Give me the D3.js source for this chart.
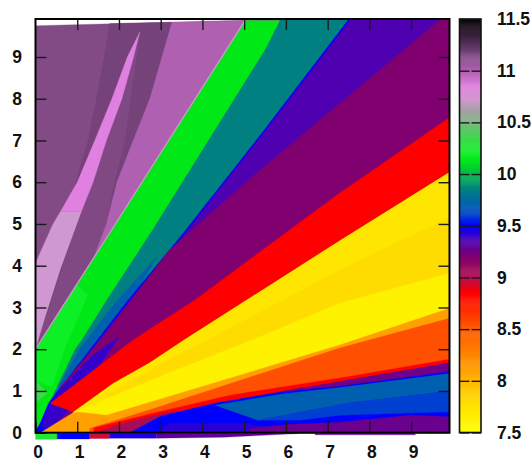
<!DOCTYPE html>
<meta charset="UTF-8">
<html>
<head>
<script src="https://d3js.org/d3.v7.min.js"></script>
<style>
  body { margin: 0; background: #fff; }
  text { font-family: "Liberation Sans", Arial, sans-serif; font-weight: bold; font-size: 17.5px; fill: #111; }
</style>
</head>
<body>
<svg id="chart" width="532" height="462"></svg>
<script>
// colour bar
var barTicks = [7.5, 8, 8.5, 9, 9.5, 10, 10.5, 11, 11.5];
var barTickLabels = ["7.5", "8", "8.5", "9", "9.5", "10", "10.5", "11", "11.5"];
var rampZ = [7.5, 7.62, 7.72, 7.8, 8.0, 8.1, 8.55, 8.85, 9.0, 9.2, 9.35, 9.5, 9.6, 9.7, 9.85, 10.13, 10.2, 10.35, 10.6, 10.72, 10.85, 11.0, 11.14, 11.17, 11.5];
var rampColors = ["#ffff00", "#fff200", "#ffe600", "#ffdc00", "#ffb800", "#ffa000", "#ff5000", "#ff0000", "#b01050", "#800070", "#5000b0", "#0000ff", "#0040d0", "#0060b0", "#008080", "#00e818", "#10f028", "#40d850", "#a0a0a0", "#d098d0", "#e080e0", "#b060b0", "#834c85", "#74427a", "#000000"];

var axisTicks = [0, 1, 2, 3, 4, 5, 6, 7, 8, 9];

// regions of the surface as [x, y] outlines, back to front
var plumBase = [[0, 9.75], [5, 9.88], [9.92, 9.9], [9.92, 0], [0, 0]];
var plumDark = [[1.78, 9.8], [3.27, 9.83], [2.74, 8], [2.34, 7], [1.95, 6], [1.7, 5], [1.42, 4.26], [0, 2], [1.02, 6.2], [1.26, 7], [1.55, 8.45]];
var plumMid = [[2.5, 9.6], [2.14, 7], [1.8, 5.6], [1.7, 5], [1.42, 4.26], [0, 2], [0.99, 5], [1.38, 6], [1.7, 7]];
var orchid = [[3.27, 9.83], [5.02, 9.87], [1.42, 4.26], [1.7, 5], [1.95, 6], [2.34, 7], [2.74, 8]];
var paleSliver = [[0, 2], [0, 4.06], [0.42, 5], [0.6, 5.3], [1.1, 5.3], [0.99, 5], [0.59, 3.9], [0.23, 2.77]];
var pinkSliver = [[0.6, 5.3], [1, 6], [1.42, 7], [1.83, 8], [2.2, 9], [2.5, 9.6], [2.35, 9], [2.07, 8], [1.7, 7], [1.38, 6], [1.1, 5.3]];
var green = [[0, 2], [5.02, 9.87], [9.92, 9.9], [9.92, 0], [0, 0]];
var greenEdge = [[0, 2], [5.02, 9.87]];
var greenBright = [[0, 1.95], [1.0, 3.55], [1.25, 3.3], [0.65, 1.9], [0.4, 1.1], [0, 1.25]];
var greenPale = [[0, 0.72], [0, 1.25], [0.28, 0.95]];
var teal = [[0.1, 0.2], [0.47, 1], [0.95, 2], [1.11, 2.22], [1.71, 3.18], [2.79, 4.83], [5.52, 9.2], [5.87, 9.9], [9.92, 9.9], [9.92, 0], [0.1, 0]];
var steelBlue = [[0.2, 0.4], [0.5, 1], [1.05, 2], [1.23, 2.22], [1.9, 3.1], [2.9, 4.2], [2.26, 3.1], [0.35, 0.7]];
var blueLine = [[0, 0.05], [0.1, 0.2], [0.32, 0.72], [2.22, 3.18], [3.54, 4.78], [5.48, 7.25], [7.5, 9.9], [9.92, 9.9], [9.92, 0], [0, 0]];
var indigoBand = [[0.36, 0.72], [2.26, 3.18], [3.58, 4.78], [5.52, 7.25], [7.55, 9.9], [9.92, 9.9], [9.92, 0], [0.36, 0]];
var purpleBand = [[0.6, 1.1], [1.58, 2.25], [2.3, 3.18], [3.2, 4.37], [5.52, 6.41], [9.7, 9.9], [9.92, 9.9], [9.92, 0], [0.6, 0]];
var cornerIndigo = [[0.35, 0.68], [0.6, 1.05], [1.3, 1.8], [2.0, 2.3], [0.78, 0.49], [0.3, 0.1], [0.15, 0.15], [0.23, 0.42]];
var redBand = [[0.35, 0.7], [2.34, 2.22], [3.82, 3.18], [7.29, 5.74], [8.44, 6.53], [9.92, 7.55], [9.92, 6.25], [7.29, 4.61], [3.54, 2.22], [2.74, 1.69], [1.86, 1.19], [0.9, 0.5]];
var yellowUpper = [[0.9, 0.5], [1.86, 1.19], [2.74, 1.69], [3.54, 2.22], [7.29, 4.61], [9.92, 6.25], [9.92, 0], [0.9, 0]];
var goldBand = [[1.6, 0.85], [2.74, 1.5], [7.29, 3.9], [9.92, 5.16], [9.92, 3], [2.74, 0.7]];
var yellowLower = [[0.92, 0.48], [2.74, 1.25], [5.38, 2.3], [7.29, 3.1], [9.92, 3.82], [9.92, 0], [0.92, 0]];
var orangeBand = [[0.12, 0], [0.9, 0.48], [1.07, 0.49], [1.7, 0.42], [2.74, 0.73], [7.29, 2.1], [9.92, 2.98], [9.92, 0]];
var orangeRed = [[1.3, 0.1], [2.74, 0.55], [7.29, 2.03], [9.92, 2.74], [9.92, 0], [1.3, 0]];
var redThin = [[1.4, 0.12], [2.74, 0.45], [4.66, 0.9], [7.29, 1.31], [9.92, 1.76], [9.92, 0], [1.4, 0]];
var crimsonWedge = [[1.55, 0.04], [2.2, 0.25], [2.74, 0.38], [3.4, 0.53], [2.98, 0.3], [2.26, 0], [1.55, 0]];
var blueBase = [[2.26, 0], [2.98, 0.38], [3.3, 0.47], [4.35, 0.72], [7.29, 1.22], [9.92, 1.67], [9.92, 0]];
var purpleThin = [[5.9, 0.98], [7.29, 1.22], [9.92, 1.67], [9.92, 1.47], [7.29, 1.12]];
var steelWedge = [[4.3, 0.66], [5.9, 0.93], [7.29, 1.08], [9.92, 1.42], [9.92, 1.0], [7.53, 0.72], [5.33, 0.3]];
var midBlue = [[5.33, 0.3], [7.53, 0.72], [9.92, 1.0], [9.92, 0.5], [7.29, 0.42], [6.33, 0.3]];
var indigoFloor = [[2.9, 0], [3.2, 0.22], [5.07, 0.22], [5.5, 0.14], [5.5, 0]];
var purpleFloor = [[5.13, 0], [5.13, 0.1], [6.1, 0.2], [7.29, 0.25], [8.97, 0.42], [9.92, 0.38], [9.92, 0]];
var stripGreen = [[0, -0.02], [0.52, -0.02], [0.52, -0.16], [0, -0.16]];
var stripBlue = [[0.52, -0.02], [1.3, -0.02], [1.3, -0.15], [0.52, -0.15]];
var stripRed = [[1.3, -0.02], [1.78, -0.02], [1.78, -0.14], [1.3, -0.14]];
var stripIndigo = [[1.78, -0.02], [2.9, -0.02], [2.9, -0.13], [1.78, -0.13]];
var stripPurple = [[2.9, -0.02], [6.3, -0.02], [4.5, -0.11], [2.9, -0.13]];
var stripFar = [[6.7, -0.02], [9.1, -0.02], [9.1, -0.05], [6.7, -0.05]];

var regions = [plumBase, plumDark, plumMid, orchid, paleSliver, pinkSliver, green, greenBright, greenPale, teal, steelBlue,
  blueLine, indigoBand, purpleBand, cornerIndigo, yellowUpper, goldBand, yellowLower, orangeBand, orangeRed, redThin,
  crimsonWedge, blueBase, purpleThin, steelWedge, midBlue, indigoFloor, purpleFloor, redBand, stripGreen, stripBlue, stripRed, stripIndigo, stripPurple, stripFar];
var regionZ = [11.14, 11.17, 11.145, 11.0, 10.72, 10.85, 10.13, 10.2, 10.35, 9.85, 9.7,
  9.5, 9.35, 9.2, 9.4, 7.72, 7.8, 7.62, 8.1, 8.55, 8.85,
  9.05, 9.5, 9.25, 9.7, 9.6, 9.42, 9.27, 8.85, 10.25, 9.5, 8.95, 9.45, 9.3, 9.3];

var left = 35.5, right = 449.5, top_ = 19, bottom = 432.7;
var barLeft = 459.5, barRight = 481;

var x = d3.scaleLinear().domain([0, 9.92]).range([left, right]);
var y = d3.scaleLinear().domain([0, 9.91]).range([bottom, top_]);
var zColor = d3.scaleLinear().domain(rampZ).range(rampColors).interpolate(d3.interpolateRgb);
var zBar = d3.scaleLinear().domain([7.5, 11.5]).range([432.5, 19]);

var svg = d3.select("#chart");
var defs = svg.append("defs");
defs.append("filter").attr("id", "soft").append("feGaussianBlur").attr("stdDeviation", 0.45);

var outline = d3.line().x(function (d) { return x(d[0]); }).y(function (d) { return y(d[1]); });

var surface = svg.append("g").attr("filter", "url(#soft)");
surface.selectAll("path.region")
  .data(regions)
  .enter()
  .append("path")
  .attr("class", "region")
  .attr("d", function (d) { return outline(d) + "Z"; })
  .attr("fill", function (d, i) { return zColor(regionZ[i]); })
  .attr("stroke", function (d, i) { return zColor(regionZ[i]); })
  .attr("stroke-width", 0.3);

// the light seam above the green band
surface.append("path")
  .attr("d", outline(greenEdge))
  .attr("fill", "none")
  .attr("stroke", zColor(10.72))
  .attr("stroke-width", 1.3);

// colour bar
var barSteps = d3.range(7.5, 11.5, 0.01);
svg.append("g").selectAll("rect")
  .data(barSteps)
  .enter()
  .append("rect")
  .attr("x", barLeft)
  .attr("width", barRight - barLeft)
  .attr("y", function (d) { return zBar(d + 0.01); })
  .attr("height", zBar(7.5) - zBar(7.51) + 0.5)
  .attr("fill", function (d) { return zColor(d); });

function cleanAxis(g) {
  g.select(".domain").remove();
  g.selectAll(".tick line").attr("stroke", "#1a1a1a").attr("stroke-width", 1.4);
}

var inner = axisTicks.slice(1);

svg.append("g").attr("transform", "translate(0," + bottom + ")")
  .call(d3.axisBottom(x).tickValues(axisTicks).tickSize(-11).tickPadding(12.5).tickFormat(d3.format("d")))
  .call(cleanAxis)
  .selectAll("text").attr("dx", 2);

svg.append("g").attr("transform", "translate(" + left + ",0)")
  .call(d3.axisLeft(y).tickValues(axisTicks).tickSize(-11).tickPadding(13.5).tickFormat(d3.format("d")))
  .call(cleanAxis);

svg.append("g").attr("transform", "translate(0," + top_ + ")")
  .call(d3.axisTop(x).tickValues(inner).tickSize(-11).tickFormat(""))
  .call(cleanAxis);

svg.append("g").attr("transform", "translate(" + right + ",0)")
  .call(d3.axisRight(y).tickValues(inner).tickSize(-11).tickFormat(""))
  .call(cleanAxis);

svg.append("rect")
  .attr("x", left).attr("y", top_)
  .attr("width", right - left).attr("height", bottom - top_)
  .attr("fill", "none").attr("stroke", "#000").attr("stroke-width", 2);

// bar ticks come in from both sides and leave a small gap
svg.append("g").attr("transform", "translate(" + barLeft + ",0)")
  .call(d3.axisRight(zBar).tickValues(barTicks).tickSize(10).tickFormat(""))
  .call(cleanAxis);

svg.append("g").attr("transform", "translate(" + barRight + ",0)")
  .call(d3.axisLeft(zBar).tickValues(barTicks).tickSize(9.5).tickFormat(""))
  .call(cleanAxis);

svg.append("g").attr("transform", "translate(" + barRight + ",0)")
  .call(d3.axisRight(zBar).tickValues(barTicks).tickSize(0).tickPadding(16)
    .tickFormat(function (d, i) { return barTickLabels[i]; }))
  .call(cleanAxis);

svg.append("rect")
  .attr("x", barLeft).attr("y", zBar(11.5))
  .attr("width", barRight - barLeft).attr("height", zBar(7.5) - zBar(11.5))
  .attr("fill", "none").attr("stroke", "#111").attr("stroke-width", 1.6);
</script>
</body>
</html>
